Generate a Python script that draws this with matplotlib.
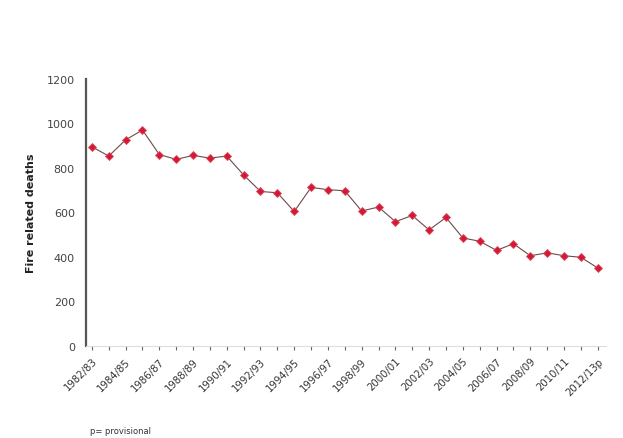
import numpy as np
import matplotlib.pyplot as plt

years = [f"{y}/{str(y + 1)[-2:]}" for y in range(1982, 2013)]
deaths = [895, 853, 926, 970, 860, 838, 856, 844, 853, 768,
          694, 688, 604, 712, 702, 697, 606, 624, 558, 586,
          521, 577, 485, 470, 429, 459, 405, 418, 405, 398, 350]
tick_labels = years[::2]
tick_labels[-1] = "2012/13p"

fig = plt.figure(figsize=(6.23, 4.39), dpi=100)
ax = fig.add_axes([0.138, 0.21, 0.835, 0.608])

x = np.arange(len(deaths))
ax.plot(x, deaths, color='#6e4a4a', lw=0.8, zorder=2)
ax.plot(x, deaths, ls='none', marker='D', ms=4.4, color='#d21a36',
        mec='#e04a5e', mew=0.6, zorder=3)

ax.set_ylim(0, 1200)
ax.set_yticks(range(0, 1201, 200))
ax.set_xlim(-0.35, 30.5)
ax.set_xticks(x[::2])
ax.set_xticklabels(tick_labels, rotation=45, ha='right', rotation_mode='anchor',
                   fontsize=7.3, color='#333333')
ax.set_xticks(x, minor=True)

for s in ['top', 'right']:
    ax.spines[s].set_visible(False)
ax.spines['left'].set_color('#555555')
ax.spines['left'].set_linewidth(1.6)
ax.spines['bottom'].set_color('#dddddd')
ax.spines['bottom'].set_linewidth(0.8)

ax.tick_params(axis='y', length=0, labelsize=8, labelcolor='#444444', pad=8)
ax.tick_params(axis='x', which='both', length=3, width=0.8, color='#666666',
               direction='out', pad=4)

ax.set_ylabel("Fire related deaths", fontsize=8, fontweight='bold',
              color='#222222', labelpad=8)

fig.text(0.145, 0.012, "p= provisional", fontsize=6, color='#333333')

fig.savefig("out.png", dpi=100)
